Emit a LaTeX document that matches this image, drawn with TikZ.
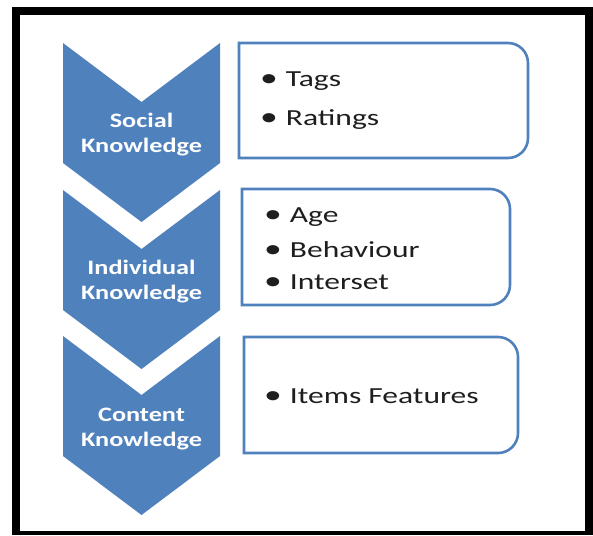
\documentclass[tikz,border=0pt]{standalone}
\usepackage{fontspec}
\setmainfont{Carlito}
\newfontfamily\chevfont[FakeStretch=1.28]{Carlito}
\newfontfamily\itemfont[FakeStretch=1.37]{Carlito}
\definecolor{chevblue}{HTML}{4F81BD}
\definecolor{itemtext}{HTML}{1E1E1E}
\newcommand{\blt}{{\fontsize{26}{26}\selectfont•}\hspace{0.35em}}
\begin{document}
\begin{tikzpicture}[x=1pt,y=1pt,
  chevron/.style={fill=chevblue,draw=none},
  listbox/.style={draw=chevblue,line width=2.6pt,fill=white},
  chevlabel/.style={text=white,font=\chevfont\bfseries\fontsize{20.5}{20.5}\selectfont,anchor=base,inner sep=0pt},
  itemlabel/.style={text=itemtext,font=\itemfont\fontsize{23}{23}\selectfont,anchor=base west,inner sep=0pt}]
\useasboundingbox (0,0) rectangle (593,-535);
% frame
\fill[black] (12,-7) rectangle (593,-535);
\fill[white] (20,-15) rectangle (585,-531);
% chevrons
\foreach \dy in {0,147,293}{
  \path[chevron] (63,-43-\dy) -- (141.5,-102-\dy) -- (220,-43-\dy) -- (220,-163-\dy)
    -- (141.5,-222-\dy) -- (63,-163-\dy) -- cycle;
}
% boxes (square left corners, rounded right corners)
\def\r{20}
\path[listbox] (239,-43) -- (508,-43) arc[start angle=90,end angle=0,radius=\r]
  -- (528,-138) arc[start angle=0,end angle=-90,radius=\r] -- (239,-158) -- cycle;
\path[listbox] (242,-189) -- (490,-189) arc[start angle=90,end angle=0,radius=\r]
  -- (510,-285) arc[start angle=0,end angle=-90,radius=\r] -- (242,-305) -- cycle;
\path[listbox] (244,-337) -- (498,-337) arc[start angle=90,end angle=0,radius=\r]
  -- (518,-433) arc[start angle=0,end angle=-90,radius=\r] -- (244,-453) -- cycle;
% chevron labels
\node[chevlabel] (soc1) at (141.5,-127) {Social};
\node[chevlabel] (soc2) at (141.5,-152) {Knowledge};
\node[chevlabel] (ind1) at (141.5,-274) {Individual};
\node[chevlabel] (ind2) at (141.5,-299) {Knowledge};
\node[chevlabel] (con1) at (141.5,-421) {Content};
\node[chevlabel] (con2) at (141.5,-446) {Knowledge};
% items
\node[itemlabel] (tags) at (260,-86) {\blt Tags};
\node[itemlabel] (rat) at (260,-125) {\blt Ratings};
\node[itemlabel] (age) at (264,-222) {\blt Age};
\node[itemlabel] (beh) at (264,-257) {\blt Behaviour};
\node[itemlabel] (int) at (264,-289) {\blt Interset};
\node[itemlabel] (feat) at (264,-403) {\blt Items Features};
\end{tikzpicture}
\end{document}
